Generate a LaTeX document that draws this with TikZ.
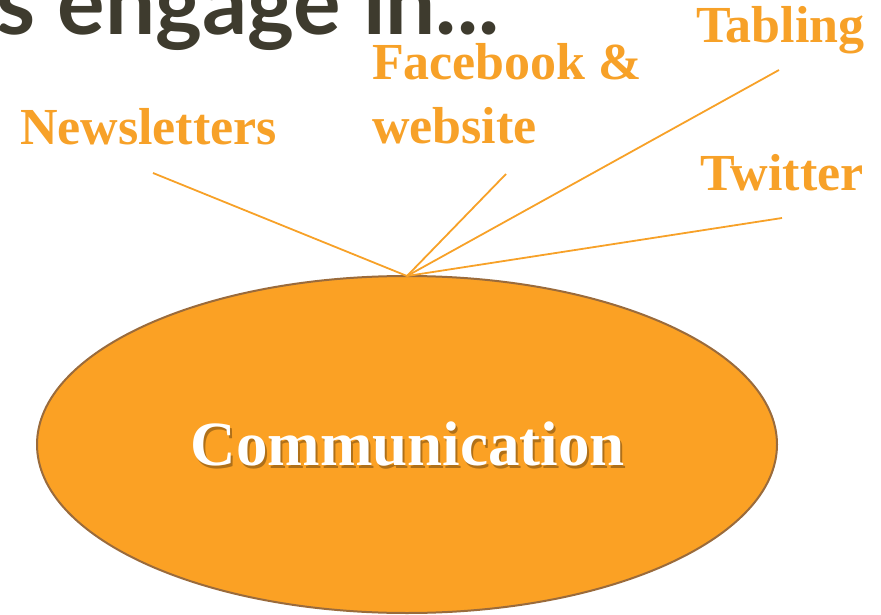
\documentclass[tikz,border=0pt]{standalone}
\usepackage{fontspec}
\setmainfont{Liberation Serif}
\newfontfamily\titlefont{Lato}
\usetikzlibrary{shapes.geometric}

\definecolor{labelorange}{HTML}{F7A128}
\definecolor{blobfill}{HTML}{FBA124}
\definecolor{blobedge}{HTML}{9A6B3C}
\definecolor{titlegray}{HTML}{3E3B2E}

\begin{document}
\begin{tikzpicture}[
        x=1pt, y=-1pt,
        every node/.style={inner sep=0pt, outer sep=0pt},
        tag/.style={anchor=base west, text=labelorange, font=\fontsize{52}{63}\selectfont\bfseries},
        spoke/.style={draw=labelorange, line width=1.8pt},
        blob/.style={ellipse, draw=blobedge, line width=2pt, fill=blobfill, minimum width=740pt, minimum height=337pt}
    ]
        \useasboundingbox (0,0) rectangle (881,615);

        % Heading, cut at the top
        \node[anchor=base west, text=titlegray, font=\titlefont\bfseries\fontsize{89}{89}\selectfont] (title) at (-3,35) {s engage in...};

        % Centre ellipse
        \node[blob] (comm) at (407,444.5) {};
        \node[text=black, opacity=0.3, font=\fontsize{63}{63}\selectfont\bfseries] (commshadow) at (410,447) {Communication};
        \node[text=white, font=\fontsize{63}{63}\selectfont\bfseries] (commtext) at (408,444) {Communication};

        % Labels
        \node[tag] (news) at (20,145) {Newsletters};
        \node[tag, align=left] (fb) at (372,143) {Facebook \&\\website};
        \node[tag] (tabling) at (696,43) {Tabling};
        \node[tag] (twitter) at (700,190) {Twitter};

        % Spoke ends
        \coordinate (newsend) at (153,173);
        \coordinate (fbend) at (506,174);
        \coordinate (tablingend) at (779,70);
        \coordinate (twitterend) at (782,218);

        % Spokes
        \draw[spoke] (comm.north) -- (newsend);
        \draw[spoke] (comm.north) -- (fbend);
        \draw[spoke] (comm.north) -- (tablingend);
        \draw[spoke] (comm.north) -- (twitterend);
    \end{tikzpicture}
\end{document}
